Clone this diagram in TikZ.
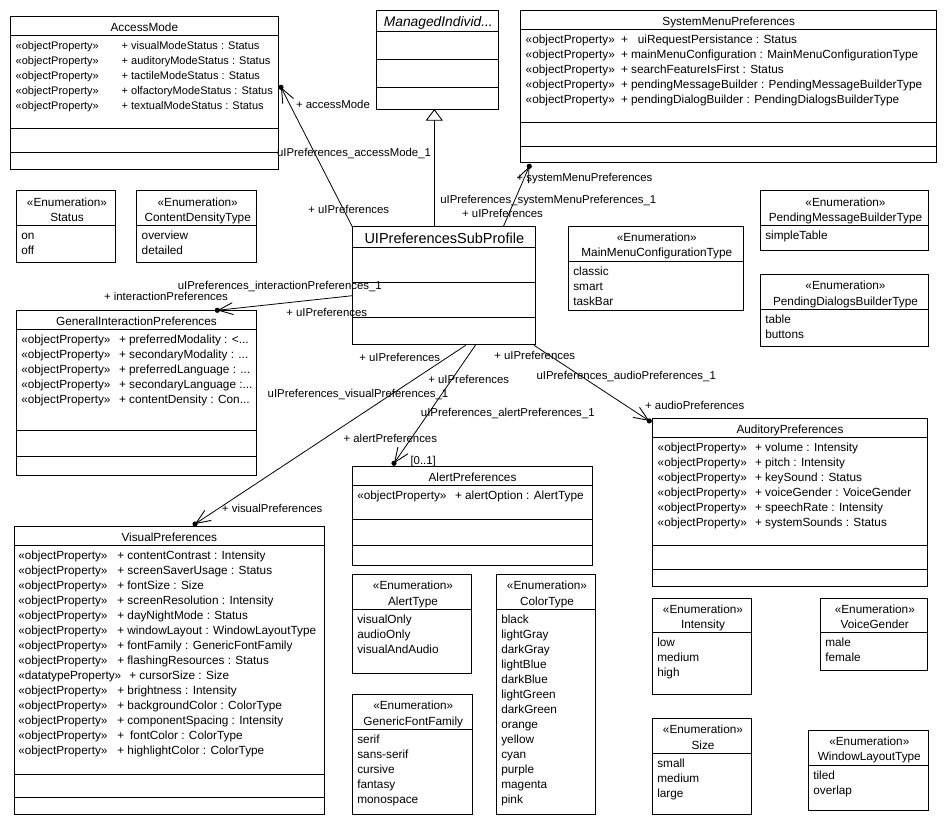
\documentclass[tikz,border=0pt]{standalone}
\usepackage{fontspec}
\setmainfont{Liberation Sans}
\usetikzlibrary{arrows.meta,calc,fit}
\tikzset{
  box/.style={draw, line width=0.9pt, inner sep=0pt, outer sep=0pt},
  sepline/.style={line width=0.9pt},
  txt/.style={inner sep=0pt, outer sep=0pt, font=\fontsize{11.8}{15}\selectfont},
  smalltxt/.style={font=\fontsize{11}{15}\selectfont},
  lbl/.style={inner sep=0pt, outer sep=0pt, font=\fontsize{11.4}{13}\selectfont},
  assoc/.style={draw, line width=0.8pt, -{Straight Barb[length=14.5pt,width=12pt,line width=0.9pt]}},
  gen/.style={draw, line width=0.8pt, -{Triangle[open,fill=white,length=11.7pt,width=17.3pt,line width=0.9pt]}},
}
\newcommand\ddd{.\kern0pt.\kern0pt.}
% name x1 y1 x2 y2 yh s1 s2 title
\newcommand\umlclass[9]{%
  \node[box, fit={(#2,#3) (#4,#5)}] (#1) {};
  \draw[sepline] (#2,#6) -- (#4,#6);
  \draw[sepline] (#2,#7) -- (#4,#7);
  \draw[sepline] (#2,#8) -- (#4,#8);
  \node[txt, anchor=base] (#1-t) at ({(#2+#4)/2}, {#6-4}) {#9};
}
% name x1 y1 x2 y2 yh title items
\newcommand\umlenum[8]{%
  \node[box, fit={(#2,#3) (#4,#5)}] (#1) {};
  \draw[sepline] (#2,#6) -- (#4,#6);
  \node[txt, anchor=base] (#1-st) at ({(#2+#4)/2+1}, {#6-19.7}) {«Enumeration»};
  \node[txt, anchor=base] (#1-t) at ({(#2+#4)/2+1}, {#6-4.2}) {#7};
  \foreach \vitem [count=\ii] in {#8}
    \node[txt, anchor=base west] (#1-\ii) at ({#2+5}, {#6+14+15*(\ii-1)}) {\vitem};
}
% name style xs xp ybase rows
\newcommand\umlattrs[6]{%
  \foreach \ster/\attr [count=\ii] in {#6} {
    \node[txt, #2, anchor=base west] (#1-s\ii) at (#3, {#5+15*(\ii-1)}) {\ster};
    \node[txt, #2, anchor=base west] (#1-a\ii) at (#4, {#5+15*(\ii-1)}) {\attr};
  }
}
\newcommand\lbl[4]{\node[lbl, anchor=base] (#1) at (#2, {#3+3.7}) {#4};}

\begin{document}
\begin{tikzpicture}[x=1pt, y=-1pt]
\useasboundingbox[fill=white] (0,0) rectangle (947,825);

% ---------- classes ----------
\umlclass{am}{10.7}{16.7}{278}{169}{35}{128}{152.7}{AccessMode}
\umlattrs{am}{smalltxt}{15.7}{121.7}{49.5}{%
  «objectProperty»/+ visualModeStatus : Status,
  «objectProperty»/+ auditoryModeStatus : Status,
  «objectProperty»/+ tactileModeStatus : Status,
  «objectProperty»/+ olfactoryModeStatus : Status,
  «objectProperty»/+ textualModeStatus : Status}

\node[box, fit={(376.7,10) (498.7,109)}] (mi) {};
\draw[sepline] (376.7,31.7) -- (498.7,31.7);
\draw[sepline] (376.7,59.3) -- (498.7,59.3);
\draw[sepline] (376.7,87.3) -- (498.7,87.3);
\node[inner sep=0pt, anchor=base, font=\fontsize{13.8}{15}\selectfont\itshape] (mi-t) at (438.3,26.5) {ManagedIndivid\ddd};

\umlclass{smp}{520.7}{10}{936.7}{162.7}{29.3}{122.7}{146.7}{SystemMenuPreferences}
\umlattrs{smp}{}{525.7}{621}{43.8}{%
  «objectProperty»/+\hspace{10pt}uiRequestPersistance : Status,
  «objectProperty»/+ mainMenuConfiguration : MainMenuConfigurationType,
  «objectProperty»/+ searchFeatureIsFirst : Status,
  «objectProperty»/+ pendingMessageBuilder : PendingMessageBuilderType,
  «objectProperty»/+ pendingDialogBuilder : PendingDialogsBuilderType}

\node[box, fit={(352.3,226.7) (535.7,344.3)}] (uip) {};
\draw[sepline] (352.3,247.3) -- (535.7,247.3);
\draw[sepline] (352.3,282.3) -- (535.7,282.3);
\draw[sepline] (352.3,317.3) -- (535.7,317.3);
\node[inner sep=0pt, anchor=base, font=\fontsize{14.5}{16}\selectfont] (uip-t) at (444.3,243.5) {UIPreferencesSubProfile};

\umlclass{gip}{16.3}{310.3}{256.7}{475.3}{329.3}{430.3}{456.3}{GeneralInteractionPreferences}
\umlattrs{gip}{}{21.3}{119}{343.8}{%
  «objectProperty»/+ preferredModality : <\ddd,
  «objectProperty»/+ secondaryModality : \ddd,
  «objectProperty»/+ preferredLanguage : \ddd,
  «objectProperty»/+ secondaryLanguage :\ddd,
  «objectProperty»/+ contentDensity : Con\ddd}

\umlclass{aud}{652.3}{418.3}{927.7}{586}{437.3}{545.7}{569.3}{AuditoryPreferences}
\umlattrs{aud}{}{657.7}{755}{451.8}{%
  «objectProperty»/+ volume : Intensity,
  «objectProperty»/+ pitch : Intensity,
  «objectProperty»/+ keySound : Status,
  «objectProperty»/+ voiceGender : VoiceGender,
  «objectProperty»/+ speechRate : Intensity,
  «objectProperty»/+ systemSounds : Status}

\umlclass{al}{352.3}{466.3}{592.7}{565.3}{485.3}{519.7}{545.3}{AlertPreferences}
\umlattrs{al}{}{357.3}{455}{499.8}{«objectProperty»/+ alertOption : AlertType}

\umlclass{vp}{14.3}{526.7}{324.3}{814}{545.3}{774.3}{797.7}{VisualPreferences}
\umlattrs{vp}{}{18.3}{117.3}{559.8}{%
  «objectProperty»/+ contentContrast : Intensity,
  «objectProperty»/+ screenSaverUsage : Status,
  «objectProperty»/+ fontSize : Size,
  «objectProperty»/+ screenResolution : Intensity,
  «objectProperty»/+ dayNightMode : Status,
  «objectProperty»/+ windowLayout : WindowLayoutType,
  «objectProperty»/+ fontFamily : GenericFontFamily,
  «objectProperty»/+ flashingResources : Status,
  «datatypeProperty»/\hspace*{12pt}+ cursorSize : Size,
  «objectProperty»/+ brightness : Intensity,
  «objectProperty»/+ backgroundColor : ColorType,
  «objectProperty»/+ componentSpacing : Intensity,
  «objectProperty»/+\hspace{6pt}fontColor : ColorType,
  «objectProperty»/+ highlightColor : ColorType}

% ---------- enumerations ----------
\umlenum{st}{16.3}{190.3}{115.7}{262.3}{225.7}{Status}{on,off}
\umlenum{cdt}{136.7}{190.3}{256.7}{262.3}{225.7}{ContentDensityType}{overview,detailed}
\umlenum{mmct}{568.3}{226.7}{743.3}{310}{261}{MainMenuConfigurationType}{classic,smart,taskBar}
\umlenum{pmbt}{760.3}{190.3}{928.7}{250.3}{225.7}{PendingMessageBuilderType}{simpleTable}
\umlenum{pdbt}{760.3}{274.3}{928.7}{346}{309.3}{PendingDialogsBuilderType}{table,buttons}
\umlenum{at}{352.3}{574.3}{471.7}{673.3}{609.3}{AlertType}{visualOnly,audioOnly,visualAndAudio}
\umlenum{gff}{352.3}{694.3}{472.3}{814}{729.3}{GenericFontFamily}{serif,sans-serif,cursive,fantasy,monospace}
\umlenum{ct}{496.3}{574.3}{595.7}{814}{609.3}{ColorType}{black,lightGray,darkGray,lightBlue,darkBlue,lightGreen,darkGreen,orange,yellow,cyan,purple,magenta,pink}
\umlenum{int}{652.3}{598.3}{751.7}{694.3}{632.7}{Intensity}{low,medium,high}
\umlenum{vg}{820.3}{598.3}{927.3}{670}{632.7}{VoiceGender}{male,female}
\umlenum{sz}{652.3}{718.3}{751.7}{814.3}{753.3}{Size}{small,medium,large}
\umlenum{wlt}{808.3}{730.3}{928.3}{810}{765}{WindowLayoutType}{tiled,overlap}

% ---------- connector end points ----------
\coordinate (u-smp) at ($(uip.north west)+(151,0)$);
\coordinate (u-gip) at ($(uip.north west)+(0,69)$);
\coordinate (u-vp)  at ($(uip.south west)+(113.4,1)$);
\coordinate (u-al)  at ($(uip.south west)+(123.4,0.5)$);
\coordinate (u-aud) at ($(uip.south east)+(-1.7,1)$);
\coordinate (u-gen) at ($(uip.north west)+(82,0)$);
\coordinate (d-am)  at ($(am.north east)+(3,70.6)$);
\coordinate (d-smp) at ($(smp.south west)+(8.6,3.6)$);
\coordinate (d-gip) at ($(gip.north west)+(201,0)$);
\coordinate (d-vp)  at ($(vp.north west)+(180.7,-2.7)$);
\coordinate (d-al)  at ($(al.north west)+(41.7,-3)$);
\coordinate (d-aud) at ($(aud.north west)+(-3,2.6)$);
\coordinate (g-tip) at ($(mi.south west)+(57.6,0)$);

% ---------- connectors ----------
\draw[gen] (u-gen) -- (g-tip);
\draw[assoc] (uip.north west) -- (d-am);
\draw[assoc] (u-smp) -- (d-smp);
\draw[assoc] (u-gip) -- (d-gip);
\draw[assoc] (u-vp) -- (d-vp);
\draw[assoc] (u-al) -- (d-al);
\draw[assoc] (u-aud) -- (d-aud);
\foreach \dd in {d-am,d-smp,d-gip,d-vp,d-al,d-aud}
  \fill (\dd) circle (2.6pt);

% ---------- connector labels ----------
\lbl{l1}{348.7}{210}{+ uIPreferences}
\lbl{l2}{333}{104.3}{+ accessMode}
\lbl{l3}{354}{152.3}{uIPreferences\_accessMode\_1}
\lbl{l4}{584.5}{178}{+ systemMenuPreferences}
\lbl{l5}{548.3}{200}{uIPreferences\_systemMenuPreferences\_1}
\lbl{l6}{502.5}{214}{+ uIPreferences}
\lbl{l7}{279.8}{286}{uIPreferences\_interactionPreferences\_1}
\lbl{l8}{166}{297}{+ interactionPreferences}
\lbl{l9}{326.7}{312.3}{+ uIPreferences}
\lbl{l10}{399.7}{358}{+ uIPreferences}
\lbl{l11}{358}{393.7}{uIPreferences\_visualPreferences\_1}
\lbl{l12}{272.2}{508.3}{+ visualPreferences}
\lbl{l13}{468.7}{380}{+ uIPreferences}
\lbl{l14}{507.8}{412.7}{uIPreferences\_alertPreferences\_1}
\lbl{l15}{390.3}{439}{+ alertPreferences}
\lbl{l16}{423.2}{461}{[0..1]}
\lbl{l17}{534.7}{355.7}{+ uIPreferences}
\lbl{l18}{626.2}{376}{uIPreferences\_audioPreferences\_1}
\lbl{l19}{694.7}{406}{+ audioPreferences}
\end{tikzpicture}
\end{document}
